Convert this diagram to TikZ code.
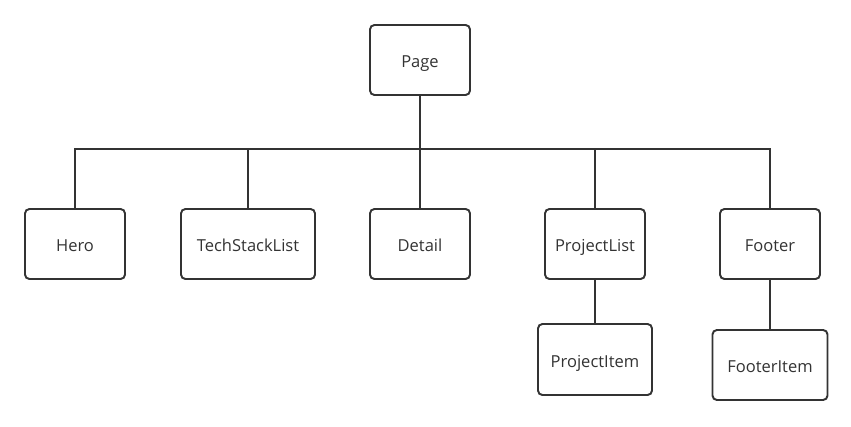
\documentclass[tikz,border=0pt]{standalone}
\usepackage{fontspec}
\setmainfont{Open Sans}
\usetikzlibrary{calc}

\definecolor{linegray}{HTML}{333333}
\tikzset{
    box/.style={draw=linegray, line width=1.1pt, rounded corners=2.5pt, text=linegray,
        minimum width=2cm, minimum height=1.4cm, inner sep=0pt, text height=9pt, text depth=0pt,
        font=\fontsize{9.4}{11}\selectfont},
    link/.style={draw=linegray, line width=1.1pt}
}

\begin{document}
\begin{tikzpicture}[x=0.02cm, y=-0.02cm]
            \useasboundingbox (0,0) rectangle (851,426);
            \node[box] (page) at (420,60) {Page};
            \node[box] (hero) at (75,244) {Hero};
            \node[box, minimum width=2.68cm] (techstack) at (248,244) {TechStackList};
            \node[box] (detail) at (420,244) {Detail};
            \node[box] (projlist) at (595,244) {ProjectList};
            \node[box] (footer) at (770,244) {Footer};
            \node[box, minimum width=2.28cm, minimum height=1.42cm] (projitem) at (595,359.5) {ProjectItem};
            \node[box, minimum width=2.3cm] (footitem) at (770,365) {FooterItem};
            \coordinate (bus) at (420,149);
            \draw[link] (page) -- (bus);
            \foreach \child in {hero,techstack,detail,projlist,footer}
                \draw[link] (bus) -| (\child.north);
            \draw[link] (hero.north) |- (footer.north |- bus);
            \draw[link] (projlist) -- (projitem);
            \draw[link] (footer) -- (footitem);
        \end{tikzpicture}
\end{document}
